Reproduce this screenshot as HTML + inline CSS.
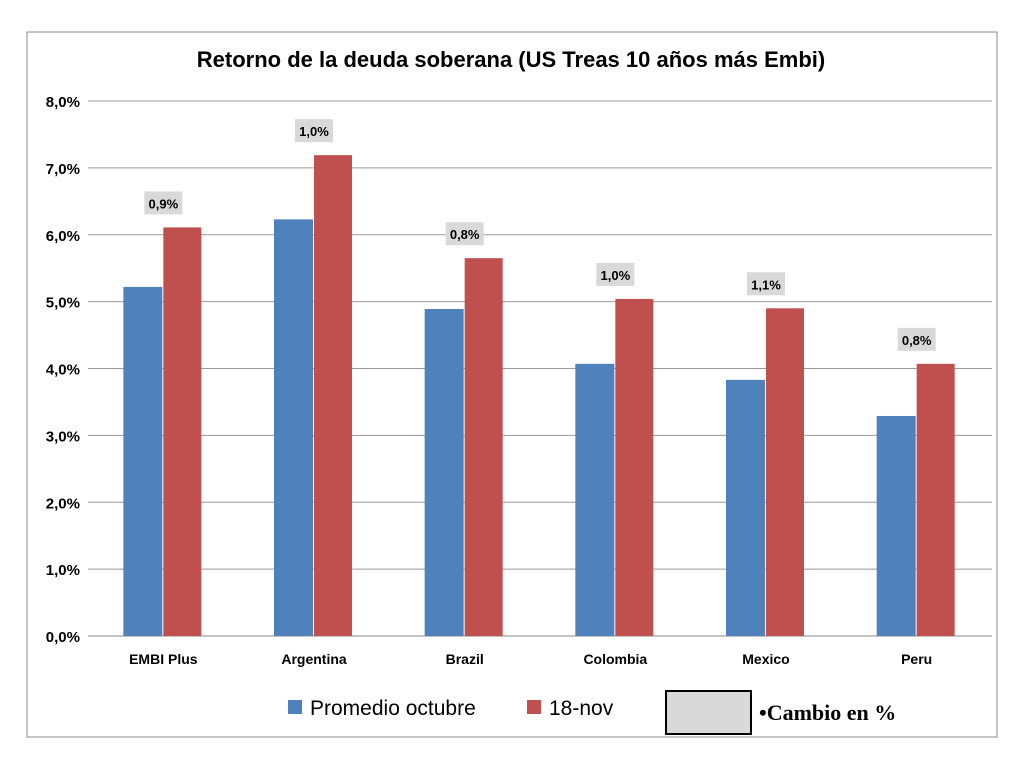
<!DOCTYPE html>
<html><head><meta charset="utf-8"><style>
body{margin:0;background:#fff;width:1024px;height:768px;overflow:hidden;font-family:"Liberation Sans",sans-serif}
</style></head><body>
<svg width="1024" height="768">
<rect x="27" y="32" width="970" height="705" fill="#fff" stroke="#888" stroke-width="1"/>
<text x="511" y="67" text-anchor="middle" font-size="22" font-weight="bold" fill="#000">Retorno de la deuda soberana (US Treas 10 años más Embi)</text>
<g id="grid"></g><g id="bars"></g><g id="labels"></g>
<rect x="288" y="700" width="14" height="14" fill="#4f81bd"/>
<text x="310" y="715" font-size="21" fill="#000">Promedio octubre</text>
<rect x="527" y="700" width="14" height="14" fill="#c0504d"/>
<text x="549" y="715" font-size="21" fill="#000">18-nov</text>
<rect x="666" y="691" width="85" height="43" fill="#d9d9d9" stroke="#000" stroke-width="2"/>
<text x="759" y="720" font-size="22" font-weight="bold" font-family="Liberation Serif,serif" fill="#000">•Cambio en %</text>
</svg>
<script>
const categories=["EMBI Plus","Argentina","Brazil","Colombia","Mexico","Peru"];
const promedio=[5.22,6.23,4.89,4.07,3.83,3.29];
const nov18=[6.11,7.19,5.65,5.04,4.90,4.07];
const changes=["0,9%","1,0%","0,8%","1,0%","1,1%","0,8%"];
const ticks=[0,1,2,3,4,5,6,7,8];
const NS="http://www.w3.org/2000/svg";
const L=88,R=992,Y0=636,Y8=101;
const y=v=>Y0-(v/8)*(Y0-Y8);
const bw=(R-L)/categories.length;
const cx=i=>L+bw*(i+0.5);
function mk(t,a,p){const e=document.createElementNS(NS,t);for(const k in a)e.setAttribute(k,a[k]);document.getElementById(p).appendChild(e);return e;}
ticks.forEach(t=>{
 const l=mk("line",{x1:L,x2:R,y1:y(t),y2:y(t),stroke:t==0?"#888":"#999","stroke-width":1},"grid");
 
 
 const tx=mk("text",{x:L-8,y:y(t)+6,"text-anchor":"end","font-size":15,"font-weight":"bold"},"grid");
 tx.textContent=t.toFixed(1).replace(".",",")+"%";
 
 
});
categories.forEach((c,i)=>{
 const b1=mk("rect",{x:cx(i)-40,y:y(promedio[i]),width:39,height:Y0-y(promedio[i]),fill:"#4f81bd"},"bars");
 
 
 const b2=mk("rect",{x:cx(i),y:y(nov18[i]),width:38,height:Y0-y(nov18[i]),fill:"#c0504d"},"bars");
 
 
 const tx=mk("text",{x:cx(i),y:664,"text-anchor":"middle","font-size":14,"font-weight":"bold"},"grid");
 tx.textContent=c;
 
 
 const ly=y(nov18[i])-24;
 const bx=mk("rect",{x:cx(i)-19,y:ly-12,width:38,height:23,fill:"#d9d9d9"},"labels");
 
 
 const lt=mk("text",{x:cx(i),y:ly+5,"text-anchor":"middle","font-size":13,"font-weight":"bold"},"labels");
 lt.textContent=changes[i];
 
 
});
</script>
</body></html>
